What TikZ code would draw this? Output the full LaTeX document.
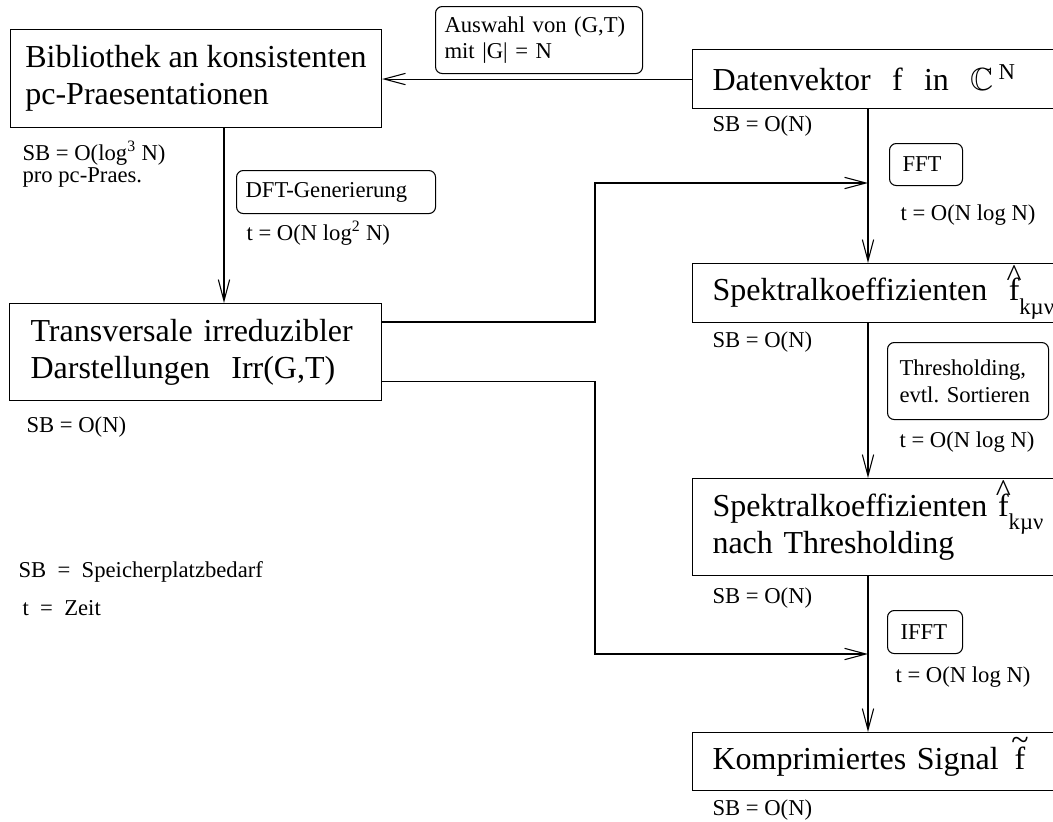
\documentclass[tikz,border=0pt]{standalone}
\usepackage{fontspec}
\setmainfont{Liberation Serif}
\usepackage{amssymb}
\usetikzlibrary{arrows.meta}

\newcommand{\bigtxt}{\fontsize{24pt}{28pt}\selectfont}
\newcommand{\smalltxt}{\fontsize{17pt}{20pt}\selectfont}
\newcommand{\fhat}{\ooalign{f\cr\hidewidth\raisebox{0.45em}[0pt][0pt]{\textasciicircum}\hidewidth\cr}}
\newcommand{\ftilde}{\ooalign{f\cr\hidewidth\raisebox{0.6em}[0pt][0pt]{\textasciitilde}\hidewidth\cr}}
\newcommand{\kmn}{\raisebox{-10pt}[0pt][0pt]{\smalltxt k\textmu ν}}

\begin{document}
\begin{tikzpicture}[x=0.75pt,y=-0.75pt,line width=0.8pt,>={Straight Barb[length=16pt,width=8.5pt]},
  box/.style={draw,rectangle,anchor=north west,align=left,font=\bigtxt,inner ysep=0pt},
  rbox/.style={box,text width=270pt,inner xsep=15pt},
  tag/.style={draw,rectangle,rounded corners=5pt,anchor=north west,align=left,font=\smalltxt,inner ysep=0pt},
  note/.style={anchor=base west,inner sep=0pt,font=\smalltxt}]
  \useasboundingbox (0,0) rectangle (1053,821);
  \clip (0,0) rectangle (1053,821);

  \node[box,minimum width=278.25pt,minimum height=73.5pt] (bib) at (10,29) {Bibliothek an konsistenten\\pc-Praesentationen};
  \node[box,text width=247.5pt,inner xsep=15.75pt,minimum height=72.75pt] (trans) at (9,303) {Transversale irreduzibler\\Darstellungen\ \ Irr(G,T)};
  \node[rbox,minimum height=44.25pt] (daten) at (692,49) {Datenvektor\ \ f\ \ in\ \ $\mathbb{C}$\,\raisebox{8pt}[0pt][0pt]{\smalltxt N}};
  \node[rbox,minimum height=44.25pt] (spek) at (692,263) {Spektralkoeffizienten\ \ \fhat\kmn};
  \node[rbox,minimum height=72.75pt] (spekthr) at (692,478) {Spektralkoeffizienten\ \fhat\kmn\\nach Thresholding};
  \node[rbox,minimum height=43.5pt] (komp) at (692,732) {Komprimiertes Signal\ \,\ftilde};

  \node[tag,text width=141.75pt,inner xsep=6.75pt,minimum height=50.25pt] (auswahl) at (435,6) {Auswahl von (G,T)\\mit |G| = N};
  \node[tag,text width=135.75pt,inner xsep=6.75pt,minimum height=32.25pt] (dft) at (236,170) {DFT-Generierung};
  \node[tag,text width=35.25pt,inner xsep=9.75pt,minimum height=31.5pt] (fft) at (889,143) {FFT};
  \node[tag,text width=102.75pt,inner xsep=9pt,minimum height=57.75pt] (thr) at (887,342) {Thresholding,\\evtl.\ Sortieren};
  \node[tag,text width=36.75pt,inner xsep=9.75pt,minimum height=32.25pt] (ifft) at (887,610) {IFFT};

  \node[note] (sbbib) at (22,160) {SB = O(log\textsuperscript{3} N)};
  \node[note] (probib) at (22,182) {pro pc-Praes.};
  \node[note] (tdft) at (246,240) {t = O(N log\textsuperscript{2} N)};
  \node[note] (sbtrans) at (26,432) {SB = O(N)};
  \node[note] (legsb) at (18,577) {SB\ \ =\ \ Speicherplatzbedarf};
  \node[note] (legt) at (22,615) {t\ \ =\ \ Zeit};
  \node[note] (sbdaten) at (712,131) {SB = O(N)};
  \node[note] (tfft) at (900,220) {t = O(N log N)};
  \node[note] (sbspek) at (712,347) {SB = O(N)};
  \node[note] (tthr) at (899,447) {t = O(N log N)};
  \node[note] (sbspekthr) at (712,603) {SB = O(N)};
  \node[note] (tifft) at (895,682) {t = O(N log N)};
  \node[note] (sbkomp) at (712,815) {SB = O(N)};

  \coordinate (ltrunk) at (224,0);
  \coordinate (rtrunk) at (868,0);
  \coordinate (bendup) at (595,183);
  \coordinate (benddown) at (595,654);

  \draw[->] (daten.west) -- (daten.west -| bib.east);
  \draw[->] (bib.south -| ltrunk) -- (trans.north -| ltrunk);
  \draw[->] (daten.south -| rtrunk) -- (spek.north -| rtrunk);
  \draw[->] (spek.south -| rtrunk) -- (spekthr.north -| rtrunk);
  \draw[->] (spekthr.south -| rtrunk) -- (komp.north -| rtrunk);
  \draw[->] ([yshift=-14.25pt]trans.north east) -| (bendup) -- (bendup -| rtrunk);
  \draw[->] ([yshift=15pt]trans.south east) -| (benddown) -- (benddown -| rtrunk);
\end{tikzpicture}
\end{document}
